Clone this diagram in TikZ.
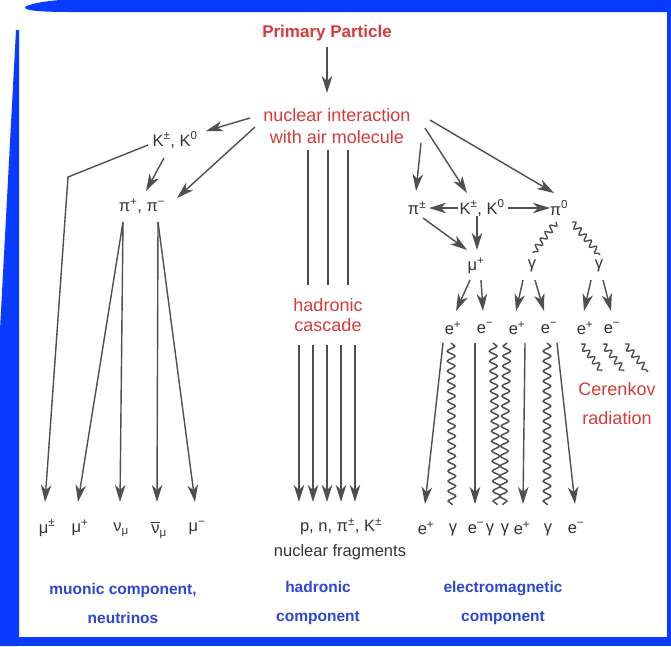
\documentclass[tikz,border=0pt]{standalone}
\usepackage{fontspec}
\setmainfont{Liberation Sans}
\usetikzlibrary{arrows.meta,decorations.pathmorphing}
\definecolor{framblue}{HTML}{0A3CFF}
\definecolor{lblred}{HTML}{D93A3A}
\definecolor{lblblue}{HTML}{2F45D6}
\definecolor{lngray}{HTML}{4F4F4F}
\definecolor{txtgray}{HTML}{333333}
\begin{document}
\begin{tikzpicture}[x=1pt,y=-1pt,
  arr/.style={draw=lngray, line width=1.4pt, -{Stealth[length=17pt,width=10.5pt,inset=5pt]}},
  ln/.style={draw=lngray, line width=1.4pt},
  wv/.style={draw=lngray, line width=1.5pt, decorate, decoration={snake, amplitude=3.8pt, segment length=10pt}},
  wvm/.style={draw=lngray, line width=1.5pt, decorate, decoration={snake, amplitude=3.8pt, segment length=10pt, mirror}},
  wvs/.style={draw=lngray, line width=1.4pt, decorate, decoration={snake, amplitude=3pt, segment length=8pt}},
  redlbl/.style={text=lblred, font=\fontsize{18}{22}\selectfont, inner sep=0pt, align=center},
  bluelbl/.style={text=lblblue, font=\bfseries\fontsize{15.5}{29}\selectfont, inner sep=0pt, align=center},
  ptl/.style={text=txtgray, font=\fontsize{16.5}{18}\selectfont, inner sep=0pt}
]
\useasboundingbox (0,0) rectangle (671,646);
% frame
\fill[white] (0,0) rectangle (671,646);
\fill[framblue] (671,0) -- (60,0) .. controls (35,2) and (24,6) .. (25,8) .. controls (27,11) and (45,12) .. (70,12) -- (671,12) -- cycle;
\fill[framblue] (667,0) rectangle (671,646);
\fill[framblue] (0,637) rectangle (671,646);
\fill[framblue] (16,30) -- (19,30) -- (19,646) -- (0,646) -- (0,330) -- cycle;

% top
\node[redlbl, font=\bfseries\fontsize{17}{20}\selectfont] (prim) at (327,33) {Primary Particle};
\node[redlbl] (nuc) at (337,126) {nuclear interaction\\with air molecule};
\coordinate (p0) at (327,47); \coordinate (p1) at (327,93);
\draw[arr, line width=2pt] (p0) -- (p1);

% left: muonic
\node[ptl] (kl) at (175,140) {K\textsuperscript{±}, K\textsuperscript{0}};
\node[ptl] (pil) at (142,206) {π\textsuperscript{+}, π\textsuperscript{−}};
\coordinate (n1) at (250,118); \coordinate (k1) at (206,131);
\coordinate (n2) at (255,127); \coordinate (pi1) at (177,198);
\coordinate (k2) at (164,158); \coordinate (pi2) at (146,191);
\draw[arr] (n1) -- (k1);
\draw[arr] (n2) -- (pi1);
\draw[arr] (k2) -- (pi2);
\coordinate (k3) at (148,145); \coordinate (kb) at (68,177); \coordinate (m1) at (45,502);
\draw[arr] (k3) -- (kb) -- (m1);
\coordinate (pa) at (123,222); \coordinate (pb) at (158,222);
\coordinate (m2) at (78,502); \coordinate (m3) at (120,502);
\coordinate (m4) at (157,502); \coordinate (m5) at (195,502);
\draw[arr] (pa) -- (m2);
\draw[arr] (pa) -- (m3);
\draw[arr] (pb) -- (m4);
\draw[arr] (pb) -- (m5);
\node[ptl] (mu1) at (47,528) {μ\textsuperscript{±}};
\node[ptl] (mu2) at (80,528) {μ\textsuperscript{+}};
\node[ptl] (nu1) at (121,530) {ν\textsubscript{μ}};
\node[ptl] (nu2) at (159,530) {\makebox[0pt][l]{\raisebox{1.3ex}{\rule{0.52em}{0.8pt}}}ν\textsubscript{μ}};
\node[ptl] (mu3) at (197,528) {μ\textsuperscript{−}};
\node[bluelbl] (bl1) at (123,603) {muonic component,\\neutrinos};

% hadronic
\foreach \x/\n in {308/a,328/b,348/c}{
  \coordinate (ht\n) at (\x,150); \coordinate (hb\n) at (\x,285);
  \draw[ln] (ht\n) -- (hb\n);
}
\node[redlbl, font=\fontsize{18}{20}\selectfont] (casc) at (328,315) {hadronic\\cascade};
\foreach \x/\n in {299/a,313/b,327/c,341/d,355/e}{
  \coordinate (hs\n) at (\x,345); \coordinate (he\n) at (\x,502);
  \draw[arr] (hs\n) -- (he\n);
}
\node[ptl] (hp) at (341,527) {p, n, π\textsuperscript{±}, K\textsuperscript{±}};
\node[ptl] (hf) at (340,552) {nuclear fragments};
\node[bluelbl] (bl2) at (318,603) {hadronic\\component};

% electromagnetic
\node[ptl] (pir) at (417,208) {π\textsuperscript{±}};
\node[ptl] (kr) at (482,208) {K\textsuperscript{±}, K\textsuperscript{0}};
\node[ptl] (pi0) at (559,208) {π\textsuperscript{0}};
\coordinate (r1) at (421,143); \coordinate (r1e) at (416,191);
\coordinate (r2) at (425,128); \coordinate (r2e) at (467,193);
\coordinate (r3) at (430,120); \coordinate (r3e) at (554,193);
\draw[arr] (r1) -- (r1e);
\draw[arr] (r2) -- (r2e);
\draw[arr] (r3) -- (r3e);
\coordinate (kp1) at (458,208); \coordinate (kp1e) at (429,208);
\coordinate (kp2) at (508,208); \coordinate (kp2e) at (550,208);
\draw[arr] (kp1) -- (kp1e);
\draw[arr] (kp2) -- (kp2e);
\coordinate (km) at (477,216); \coordinate (kme) at (477,250);
\coordinate (pm) at (423,218); \coordinate (pme) at (467,250);
\draw[arr] (km) -- (kme);
\draw[arr] (pm) -- (pme);
\node[ptl] (mur) at (476,266) {μ\textsuperscript{+}};
\node[ptl] (g1) at (532,266) {γ};
\node[ptl] (g2) at (599,266) {γ};
\coordinate (w1) at (556,222); \coordinate (w1e) at (533,253);
\coordinate (w2) at (572,222); \coordinate (w2e) at (600,255);
\draw[wvs] (w1) -- (w1e);
\draw[wvs] (w2) -- (w2e);
% to electrons
\coordinate (a1) at (470,280); \coordinate (a1e) at (456,311);
\coordinate (a2) at (481,280); \coordinate (a2e) at (483,311);
\coordinate (a3) at (523,280); \coordinate (a3e) at (516,311);
\coordinate (a4) at (535,280); \coordinate (a4e) at (544,311);
\coordinate (a5) at (591,280); \coordinate (a5e) at (584,311);
\coordinate (a6) at (603,280); \coordinate (a6e) at (611,311);
\foreach \i in {1,...,6}{\draw[arr] (a\i) -- (a\i e);}
\node[ptl] (e1) at (453,328) {e\textsuperscript{+}};
\node[ptl] (e2) at (485,328) {e\textsuperscript{−}};
\node[ptl] (e3) at (517,328) {e\textsuperscript{+}};
\node[ptl] (e4) at (549,328) {e\textsuperscript{−}};
\node[ptl] (e5) at (585,328) {e\textsuperscript{+}};
\node[ptl] (e6) at (612,328) {e\textsuperscript{−}};
% cerenkov
\coordinate (c1) at (581,344); \coordinate (c1e) at (602,371);
\coordinate (c2) at (603,344); \coordinate (c2e) at (624,371);
\coordinate (c3) at (625,344); \coordinate (c3e) at (648,372);
\draw[wvs] (c1) -- (c1e);
\draw[wvs] (c2) -- (c2e);
\draw[wvs] (c3) -- (c3e);
\node[redlbl, font=\fontsize{18}{29}\selectfont] (cer) at (617,404) {Cerenkov\\radiation};
% downward showers
\coordinate (d1) at (443,343); \coordinate (d1e) at (425,504);
\coordinate (d3) at (475,343); \coordinate (d3e) at (475,504);
\coordinate (d6) at (525,343); \coordinate (d6e) at (523,504);
\coordinate (d8) at (557,343); \coordinate (d8e) at (575,504);
\draw[arr] (d1) -- (d1e);
\draw[arr] (d3) -- (d3e);
\draw[arr] (d6) -- (d6e);
\draw[arr] (d8) -- (d8e);
\coordinate (s2) at (451,343); \coordinate (s2e) at (452,505);
\coordinate (s4) at (493,343); \coordinate (s4e) at (497,505);
\coordinate (s5) at (507,343); \coordinate (s5e) at (503,505);
\coordinate (s7) at (547,343); \coordinate (s7e) at (547,505);
\draw[wv] (s2) -- (s2e);
\draw[wv] (s4) -- (s4e);
\draw[wvm] (s5) -- (s5e);
\draw[wv] (s7) -- (s7e);
\node[ptl] (b1) at (426,528) {e\textsuperscript{+}};
\node[ptl] (b2) at (453,530) {γ};
\node[ptl] (b3) at (476,528) {e\textsuperscript{−}};
\node[ptl] (b4) at (490,530) {γ};
\node[ptl] (b5) at (505,530) {γ};
\node[ptl] (b6) at (522,528) {e\textsuperscript{+}};
\node[ptl] (b7) at (548,530) {γ};
\node[ptl] (b8) at (576,528) {e\textsuperscript{−}};
\node[bluelbl] (bl3) at (503,603) {electromagnetic\\component};
\end{tikzpicture}
\end{document}
